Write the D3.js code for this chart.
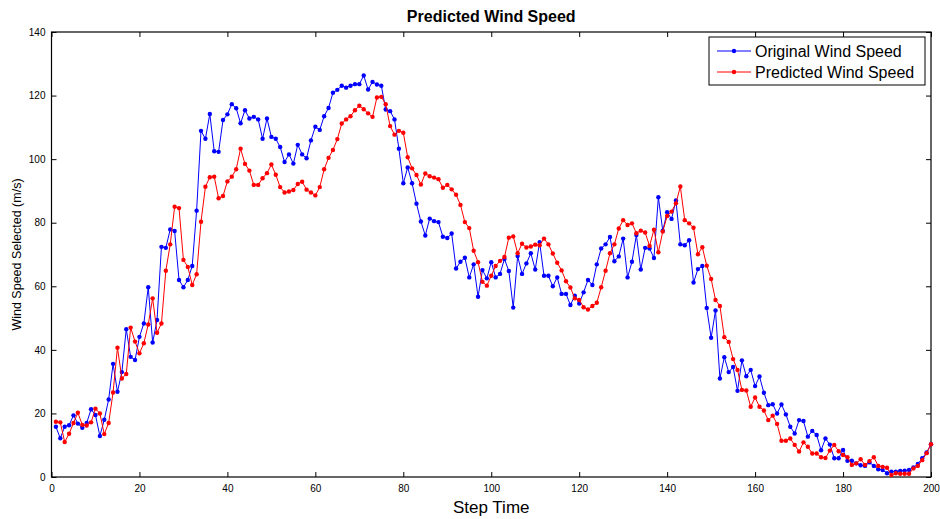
<!DOCTYPE html>
<html>
<head>
<meta charset="utf-8">
<script src="https://cdn.jsdelivr.net/npm/d3@7"></script>
<style>
  body { margin: 0; background: #fff; }
  text { font-family: "Liberation Sans", Arial, sans-serif; }
</style>
</head>
<body>
<div id="chart"></div>
<script>
// Data
const STEPS = d3.range(1, 201);

const ORIGINAL = [15.8, 12.2, 15.8, 16.3, 19.4, 16.8, 15.5, 17, 21.3, 19.5,
  12.9, 18, 24.4, 35.6, 26.8, 33, 46.5, 37.8, 36.8, 44.1,
  48.3, 59.7, 42.3, 49.4, 72.4, 72.1, 77.9, 77.4, 62, 59.7,
  62, 66.4, 83.8, 108.9, 106.4, 114.2, 102.5, 102.3, 112.3, 114.1,
  117.3, 116, 111.3, 115.4, 112.8, 113.3, 112.5, 106.4, 112.8, 107,
  106.4, 103.8, 99.1, 101.5, 98.6, 104.5, 101.5, 100.3, 105.9, 110.2,
  109.2, 113.5, 116.1, 120.9, 121.8, 123.1, 122.5, 123.1, 123.6, 123.6,
  126.3, 121.9, 124.3, 123.5, 123.1, 115.6, 115.1, 112.5, 103.3, 92.4,
  97.4, 92.4, 86, 80.4, 76, 81.3, 80.5, 80.2, 75.6, 75.2,
  76.6, 65.6, 67.7, 69, 62.8, 66.9, 56.7, 65.1, 62.5, 67.6,
  62.8, 63.9, 68.6, 64.8, 53.3, 69.5, 63.9, 67.2, 70.4, 65.3,
  73.9, 63.3, 63.3, 60, 62.8, 57.6, 57.6, 54.1, 57, 54.6,
  58.1, 62, 60.4, 66.9, 71.9, 73.2, 75.5, 67.9, 69.4, 75,
  62.8, 67.7, 76.1, 65.3, 72.1, 71.9, 68.9, 88, 77.5, 83.3,
  81.2, 87, 73.2, 72.9, 74.5, 61.2, 65.4, 66.4, 53.2, 43.8,
  52.4, 31, 37.7, 33, 34.6, 27.1, 36.7, 31.7, 33.7, 28.6,
  31.6, 26.5, 22.6, 22.9, 20, 22.8, 19.7, 15.8, 13.7, 17.9,
  17.6, 12.7, 14.5, 13.2, 8.4, 12.1, 10.2, 5.9, 5.9, 8.5,
  5.1, 5.1, 4.3, 3.7, 3.5, 4.6, 3.5, 2.4, 2.2, 1.2,
  1.7, 1.7, 1.9, 2, 2.2, 3, 4.1, 5.9, 7.7, 10.3];

const PREDICTED = [17.4, 17.2, 11, 13.6, 17, 20.2, 16.4, 16.2, 17.2, 21.5,
  20, 13.5, 17, 26.6, 40.7, 31, 32.4, 47, 42.6, 38.9,
  42.1, 48, 56.2, 45.4, 48.3, 64.9, 73.2, 85, 84.6, 68.3,
  66.1, 60.4, 63.8, 80.3, 91.3, 94.3, 94.5, 87.7, 88.4, 93,
  94.5, 96.8, 103.3, 98.5, 96.4, 91.9, 91.9, 94, 95.6, 98.3,
  95.1, 91.2, 89.5, 89.8, 90.3, 92.2, 92.9, 90.4, 89.5, 88.6,
  91.2, 96.8, 100.4, 102.9, 106.3, 111.2, 112.5, 113.5, 115.4, 116.8,
  115.7, 114.4, 113.3, 119.4, 119.6, 117.3, 110.4, 107.7, 108.9, 108.3,
  100.6, 97.1, 95, 92, 95.5, 94.6, 94.2, 93.7, 91, 91.9,
  90.5, 88.8, 85.6, 80.2, 78.3, 71.2, 67.6, 61.4, 60.2, 63.3,
  66.4, 68, 69.2, 75.3, 75.7, 70.4, 73.4, 72.2, 72.5, 73.1,
  72.9, 75, 73.2, 70.3, 67.4, 65, 61.6, 59.6, 56.2, 55.7,
  53.4, 52.7, 53.8, 54.8, 59.7, 64.9, 70.4, 73.2, 78.2, 80.8,
  79.3, 79.8, 76.7, 77.5, 76.9, 72.7, 77.8, 70.7, 77.2, 82.1,
  83.5, 86.1, 91.4, 80.8, 79.8, 78.4, 70.1, 72.3, 66.5, 62.3,
  55.7, 53.8, 44, 42.5, 37.1, 33.7, 27.4, 27.2, 22.1, 25,
  22.1, 20.9, 17.9, 19.3, 16.7, 11.4, 11.4, 12.1, 10.1, 8,
  10.9, 9.5, 7.4, 7.4, 6.2, 6, 8.3, 10.1, 8.1, 6.9,
  6.2, 3.8, 4.3, 5.6, 3.8, 5, 6.2, 3.5, 3.2, 2.9,
  0.6, 1.2, 1, 1, 1, 2.7, 3.5, 5.3, 7.5, 10.3];

const SERIES_NAMES = ["Original Wind Speed", "Predicted Wind Speed"];
const SERIES_COLORS = ["#0000ff", "#ff0000"];
const X_TICKS = d3.range(0, 201, 20);
const Y_TICKS = d3.range(0, 141, 20);

// Frame and margins
const FRAME_WIDTH = 940;
const FRAME_HEIGHT = 519;
const MARGINS = {left: 51.5, right: 9, top: 32, bottom: 42};
const VIS_WIDTH = FRAME_WIDTH - MARGINS.left - MARGINS.right;
const VIS_HEIGHT = FRAME_HEIGHT - MARGINS.top - MARGINS.bottom;

const FRAME = d3.select("#chart")
  .append("svg")
    .attr("width", FRAME_WIDTH)
    .attr("height", FRAME_HEIGHT);

const xSCALE = d3.scaleLinear().domain([0, 200]).range([0, VIS_WIDTH]);
const ySCALE = d3.scaleLinear().domain([0, 140]).range([VIS_HEIGHT, 0]);

const G = FRAME.append("g")
  .attr("transform", "translate(" + MARGINS.left + "," + MARGINS.top + ")");

// axes, ticks pointing inward like matlab
G.append("g")
  .attr("transform", "translate(0," + VIS_HEIGHT + ")")
  .call(d3.axisBottom(xSCALE).tickValues(X_TICKS).tickSize(-5).tickPadding(8))
  .call(g => g.select(".domain").remove());
G.append("g")
  .call(d3.axisTop(xSCALE).tickValues(X_TICKS).tickSize(-5).tickFormat(""))
  .call(g => g.select(".domain").remove());
G.append("g")
  .call(d3.axisLeft(ySCALE).tickValues(Y_TICKS).tickSize(-5).tickPadding(6))
  .call(g => g.select(".domain").remove());
G.append("g")
  .attr("transform", "translate(" + VIS_WIDTH + ",0)")
  .call(d3.axisRight(ySCALE).tickValues(Y_TICKS).tickSize(-5).tickFormat(""))
  .call(g => g.select(".domain").remove());

G.selectAll(".tick text")
  .attr("font-size", "10px")
  .attr("font-family", "Liberation Sans, Arial, sans-serif")
  .attr("fill", "#000");
G.selectAll(".tick line").attr("stroke", "#000");

G.append("rect")
  .attr("width", VIS_WIDTH)
  .attr("height", VIS_HEIGHT)
  .attr("fill", "none")
  .attr("stroke", "#000")
  .attr("stroke-width", 1.2);

// lines + markers
const ALL_SERIES = [ORIGINAL, PREDICTED];
const LINE = d3.line()
  .x((d, i) => xSCALE(STEPS[i]))
  .y(d => ySCALE(d));

ALL_SERIES.forEach((vals, k) => {
  G.append("path")
    .datum(vals)
    .attr("fill", "none")
    .attr("stroke", SERIES_COLORS[k])
    .attr("stroke-width", 1)
    .attr("d", LINE);
  G.selectAll(".dot" + k)
    .data(vals)
    .enter()
    .append("circle")
      .attr("cx", (d, i) => xSCALE(STEPS[i]))
      .attr("cy", d => ySCALE(d))
      .attr("r", 2.2)
      .attr("fill", SERIES_COLORS[k]);
});

// title and axis labels
FRAME.append("text")
  .attr("x", MARGINS.left + VIS_WIDTH / 2)
  .attr("y", 22)
  .attr("text-anchor", "middle")
  .attr("font-size", "16px")
  .attr("font-weight", "bold")
  .text("Predicted Wind Speed");

FRAME.append("text")
  .attr("x", MARGINS.left + VIS_WIDTH / 2)
  .attr("y", 513)
  .attr("text-anchor", "middle")
  .attr("font-size", "17px")
  .text("Step Time");

FRAME.append("text")
  .attr("transform", "translate(21," + (MARGINS.top + VIS_HEIGHT / 2) + ") rotate(-90)")
  .attr("text-anchor", "middle")
  .attr("font-size", "12.5px")
  .text("Wind Speed Selected (m/s)");

// legend
const LEGEND = FRAME.append("g").attr("transform", "translate(709,37)");
LEGEND.append("rect")
  .attr("width", 216)
  .attr("height", 48)
  .attr("fill", "#fff")
  .attr("stroke", "#000")
  .attr("stroke-width", 1);

SERIES_NAMES.forEach((name, k) => {
  const yy = 14 + k * 21;
  LEGEND.append("line")
    .attr("x1", 8).attr("x2", 42)
    .attr("y1", yy).attr("y2", yy)
    .attr("stroke", SERIES_COLORS[k]);
  LEGEND.append("circle")
    .attr("cx", 25).attr("cy", yy).attr("r", 2.2)
    .attr("fill", SERIES_COLORS[k]);
  LEGEND.append("text")
    .attr("x", 46).attr("y", yy + 5.5)
    .attr("font-size", "16px")
    .text(name);
});
</script>
</body>
</html>
